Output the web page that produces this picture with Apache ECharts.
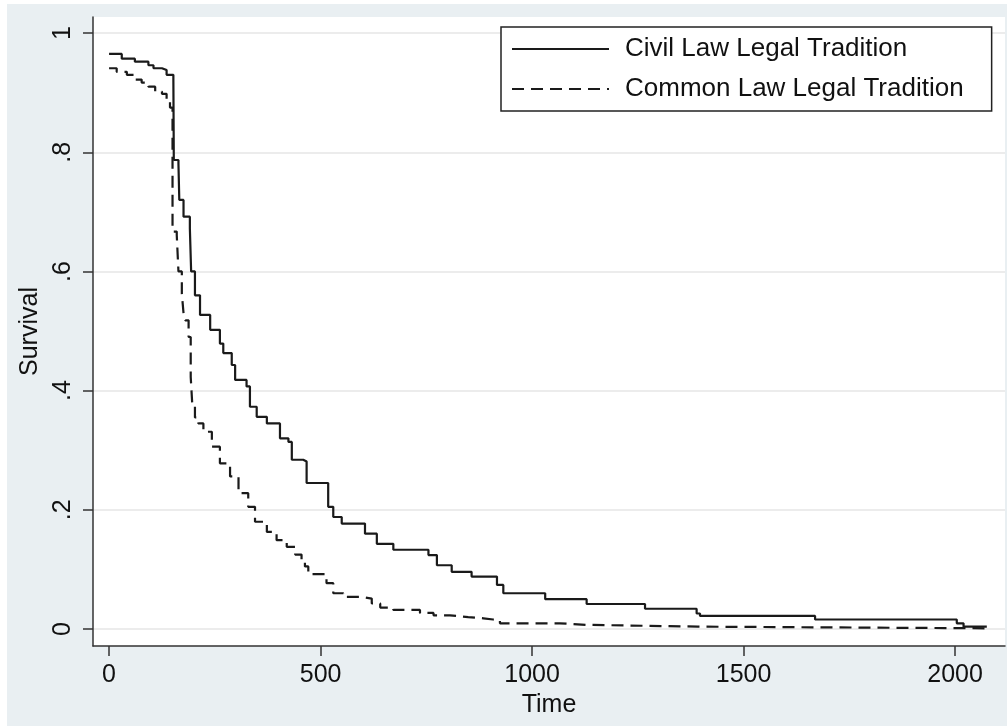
<!DOCTYPE html>
<html>
<head>
<meta charset="utf-8">
<script src="https://cdn.jsdelivr.net/npm/echarts@6/dist/echarts.min.js"></script>
<style>
	html, body { margin: 0; padding: 0; background: #fff; }
	#chart { position: absolute; left: 7px; top: 4px; width: 1000px; height: 722px; }
</style>
</head>
<body>
<div id="chart"></div>
<script>
//生存曲线 - 法系对比

//时间轴刻度
var timeTicks = [0, 500, 1000, 1500, 2000];
var survTicks = [0, 0.2, 0.4, 0.6, 0.8, 1];
var survTickLabels = ['0', '.2', '.4', '.6', '.8', '1'];

//大陆法系
var civilTime = [0, 30, 61, 93, 105, 125, 136, 152, 153, 164, 166, 176, 191, 194, 203, 215, 239, 262, 270, 290, 298, 325, 333, 349, 373, 404, 424, 432, 459, 467, 518, 530, 550, 605, 633, 672, 755, 775, 810, 857, 917, 932, 1031, 1129, 1267, 1389, 1397, 1669, 2004, 2020, 2075];
var civilSurv = [0.965, 0.957, 0.952, 0.946, 0.941, 0.938, 0.930, 0.922, 0.787, 0.781, 0.720, 0.692, 0.672, 0.600, 0.560, 0.527, 0.502, 0.479, 0.463, 0.443, 0.418, 0.407, 0.373, 0.356, 0.345, 0.320, 0.314, 0.284, 0.281, 0.245, 0.205, 0.188, 0.177, 0.160, 0.143, 0.133, 0.124, 0.107, 0.096, 0.088, 0.074, 0.060, 0.050, 0.042, 0.034, 0.026, 0.022, 0.016, 0.0095, 0.004, 0.004];

//普通法系
var commonTime = [0, 18, 42, 61, 77, 93, 109, 125, 136, 144, 150, 160, 164, 172, 176, 180, 188, 193, 197, 203, 211, 223, 243, 262, 286, 306, 329, 345, 373, 396, 420, 440, 455, 463, 471, 514, 530, 554, 597, 621, 641, 672, 735, 767, 806, 849, 885, 908, 924, 1066, 1129, 1392, 2075];
var commonSurv = [0.941, 0.935, 0.930, 0.922, 0.917, 0.910, 0.902, 0.898, 0.885, 0.875, 0.667, 0.661, 0.600, 0.563, 0.530, 0.518, 0.490, 0.423, 0.373, 0.355, 0.345, 0.331, 0.306, 0.278, 0.256, 0.228, 0.205, 0.180, 0.163, 0.149, 0.138, 0.125, 0.116, 0.105, 0.092, 0.077, 0.060, 0.054, 0.051, 0.043, 0.036, 0.032, 0.027, 0.023, 0.020, 0.018, 0.016, 0.015, 0.0095, 0.007, 0.004, 0.0012, 0.0012];

var seriesNames = ['Civil Law Legal Tradition', 'Common Law Legal Tradition'];

function pairs(xs, ys) {
	var out = [];
	for(var i = 0; i < xs.length; i++) {
		out.push([xs[i], ys[i]]);
	}
	return out
}

var fontFam = '"Liberation Sans", Arial, Helvetica, sans-serif';
var ink = '#1a1a1a';

var option = {
	backgroundColor: '#e9eff2',
	animation: false,
	textStyle: { fontFamily: fontFam },
	grid: {
		left: 86,
		top: 13,
		right: 2,
		bottom: 80,
		outerBoundsMode: 'none',
		containLabel: false,
		show: true,
		backgroundColor: '#fff',
		borderWidth: 0
	},
	legend: {
		left: 494,
		top: 23,
		orient: 'vertical',
		backgroundColor: '#fff',
		borderColor: '#222',
		borderWidth: 1.5,
		borderRadius: 0,
		padding: [9, 28, 9, 10],
		itemGap: 14,
		itemWidth: 97,
		itemHeight: 14,
		itemStyle: { opacity: 0 },
		textStyle: {
			fontSize: 26,
			color: '#111',
			fontFamily: fontFam,
			padding: [0, 0, 0, 11]
		},
		data: seriesNames
	},
	xAxis: {
		type: 'value',
		min: -38,
		max: 2118,
		name: 'Time',
		nameLocation: 'middle',
		nameGap: 47,
		nameTextStyle: { fontSize: 25, color: '#111' },
		axisLine: { show: true, onZero: false, lineStyle: { color: '#333', width: 1.5 } },
		axisTick: { show: true, length: 10, customValues: timeTicks, lineStyle: { color: '#333', width: 1.5 } },
		axisLabel: {
			customValues: timeTicks,
			fontSize: 25,
			color: '#111',
			margin: 17,
			formatter: function(v) {
				return String(v)
			}
		},
		splitLine: { show: false }
	},
	yAxis: {
		type: 'value',
		min: -0.0285,
		max: 1.027,
		name: 'Survival',
		nameLocation: 'middle',
		nameGap: 44,
		nameRotate: 90,
		nameTextStyle: { fontSize: 25, color: '#111' },
		axisLine: { show: true, onZero: false, lineStyle: { color: '#333', width: 1.5 } },
		axisTick: { show: true, length: 10, customValues: survTicks, lineStyle: { color: '#333', width: 1.5 } },
		axisLabel: {
			customValues: survTicks,
			rotate: 90,
			fontSize: 25,
			color: '#111',
			margin: 17,
			formatter: function(v) {
				var i = survTicks.indexOf(v);
				return i >= 0 ? survTickLabels[i] : ''
			}
		},
		splitLine: { show: false }
	},
	series: [{
			name: seriesNames[0],
			type: 'line',
			step: 'end',
			showSymbol: false,
			symbol: 'none',
			color: ink,
			lineStyle: { color: ink, width: 2.2 },
			data: pairs(civilTime, civilSurv),
			//网格线
			markLine: {
				silent: true,
				symbol: 'none',
				label: { show: false },
				lineStyle: { color: '#ececec', width: 2, type: 'solid' },
				data: survTicks.map(function(v) { return { yAxis: v } }),
				z: 0
			}
		},
		{
			name: seriesNames[1],
			type: 'line',
			step: 'end',
			showSymbol: false,
			symbol: 'none',
			color: ink,
			lineStyle: { color: ink, width: 2.2, type: [12, 7] },
			data: pairs(commonTime, commonSurv)
		}
	]
};

var myChart = echarts.init(document.getElementById('chart'));
myChart.setOption(option);
</script>
</body>
</html>
